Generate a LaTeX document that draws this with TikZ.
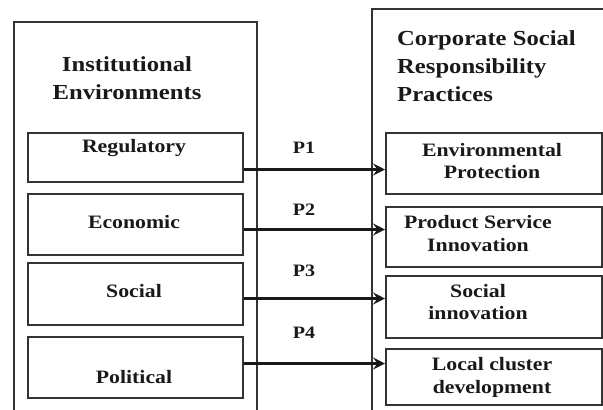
\documentclass[tikz,border=0pt]{standalone}
\usepackage{fontspec}
\newfontfamily\diagfont{Liberation Serif}[FakeStretch=1.15]
\usetikzlibrary{arrows.meta}
\begin{document}
\begin{tikzpicture}[x=1bp,y=-1bp,
  frame/.style={draw=black!80, line width=1.6bp, rectangle, inner sep=0pt, anchor=north west},
  ttl/.style={font=\diagfont\bfseries\fontsize{21.5}{28}\selectfont, inner sep=0pt, text=black!90},
  lbl/.style={font=\diagfont\bfseries\fontsize{19}{23}\selectfont, inner sep=0pt, align=center, text=black!90},
  plbl/.style={font=\diagfont\bfseries\fontsize{17.5}{20}\selectfont, inner sep=0pt, text=black!90},
  link/.style={draw=black!90, line width=2.3bp, -{Stealth[length=12bp,width=12bp,inset=4.5bp]}}]
\useasboundingbox (0,0) rectangle (603,409);
\clip (0,0) rectangle (603,409);
% outer frames
\node[frame, minimum width=243bp, minimum height=430bp] (envframe) at (13,21) {};
\node[frame, minimum width=260bp, minimum height=440bp] (csrframe) at (371,8) {};
% titles
\node[ttl, align=center] (envtitle) at (127,78) {Institutional\\Environments};
\node[ttl, align=left, anchor=west] (csrtitle) at (397,66) {Corporate Social\\Responsibility\\Practices};
% left boxes
\node[frame, minimum width=215bp, minimum height=49bp] (reg) at (27,132) {};
\node[frame, minimum width=215bp, minimum height=61bp] (eco) at (27,193) {};
\node[frame, minimum width=215bp, minimum height=62bp] (soc) at (27,262) {};
\node[frame, minimum width=215bp, minimum height=61bp] (pol) at (27,336) {};
\node[lbl] (regt) at (134,148) {Regulatory};
\node[lbl] (ecot) at (134,222) {Economic};
\node[lbl] (soct) at (134,291) {Social};
\node[lbl] (polt) at (134,377) {Political};
% right boxes
\node[frame, minimum width=216bp, minimum height=61bp] (env) at (385,132) {};
\node[frame, minimum width=216bp, minimum height=60bp] (psi) at (385,206) {};
\node[frame, minimum width=216bp, minimum height=62bp] (sin) at (385,275) {};
\node[frame, minimum width=216bp, minimum height=56bp] (lcd) at (385,348) {};
\node[lbl] (envt) at (492,161) {Environmental\\Protection};
\node[lbl] (psit) at (478,233.5) {Product Service\\Innovation};
\node[lbl] (sint) at (478,302) {Social\\innovation};
\node[lbl] (lcdt) at (492,377) {Local cluster\\development};
% connectors
\coordinate (a1) at (384,169.5);
\coordinate (a2) at (384,229.5);
\coordinate (a3) at (384,298.5);
\coordinate (a4) at (384,363.5);
\draw[link] (reg.east |- a1) -- (env.west |- a1);
\draw[link] (eco.east |- a2) -- (psi.west |- a2);
\draw[link] (soc.east |- a3) -- (sin.west |- a3);
\draw[link] (pol.east |- a4) -- (lcd.west |- a4);
\node[plbl] (p1) at (304,148) {P1};
\node[plbl] (p2) at (304,210) {P2};
\node[plbl] (p3) at (304,271) {P3};
\node[plbl] (p4) at (304,333) {P4};
\end{tikzpicture}
\end{document}
